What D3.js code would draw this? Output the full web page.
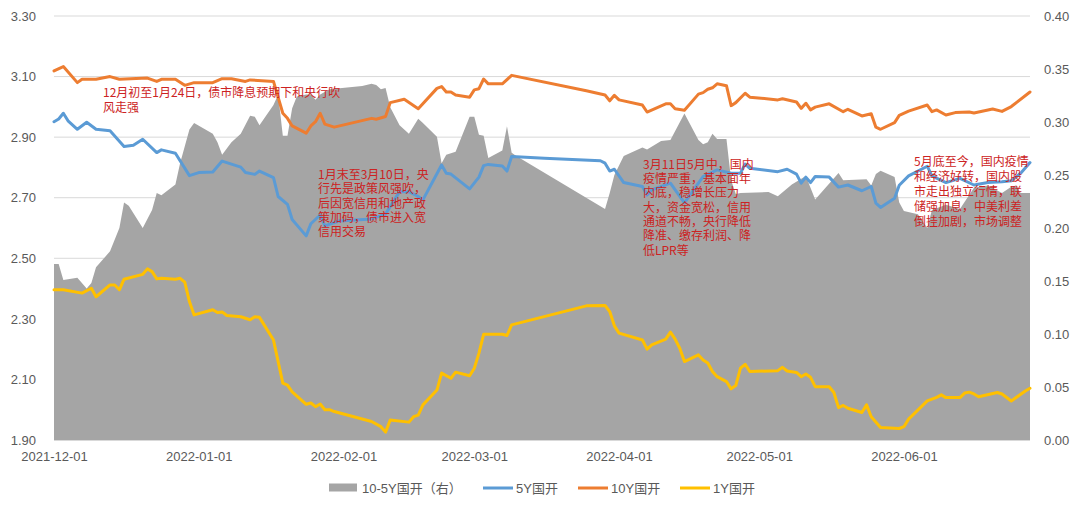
<!DOCTYPE html>
<html><head><meta charset="utf-8">
<script src="https://cdn.jsdelivr.net/npm/d3@7"></script>
<style>
html,body{margin:0;padding:0;background:#fff;}
svg{display:block;}
</style></head>
<body>
<svg id="chart" width="1080" height="507"></svg>
<script>
// ---------------- DATA ----------------
const leftTicks = [1.90, 2.10, 2.30, 2.50, 2.70, 2.90, 3.10, 3.30];
const rightTicks = [0.00, 0.05, 0.10, 0.15, 0.20, 0.25, 0.30, 0.35, 0.40];
const xTicks = ["2021-12-01","2022-01-01","2022-02-01","2022-03-01","2022-04-01","2022-05-01","2022-06-01"];
const seriesNames = ["10-5Y国开（右）", "5Y国开", "10Y国开", "1Y国开"];

const spread = [
["2021-12-01",0.166],["2021-12-02",0.166],["2021-12-03",0.151],["2021-12-06",0.153],["2021-12-08",0.143],
["2021-12-09",0.148],["2021-12-10",0.163],["2021-12-13",0.178],["2021-12-15",0.200],["2021-12-16",0.224],
["2021-12-17",0.221],["2021-12-20",0.200],["2021-12-22",0.217],["2021-12-23",0.233],["2021-12-24",0.231],
["2021-12-27",0.241],["2021-12-28",0.261],["2021-12-30",0.293],["2021-12-31",0.299],["2022-01-04",0.289],
["2022-01-05",0.281],["2022-01-06",0.269],["2022-01-08",0.281],["2022-01-10",0.289],["2022-01-12",0.306],
["2022-01-13",0.305],["2022-01-14",0.297],["2022-01-17",0.316],["2022-01-18",0.326],["2022-01-19",0.287],
["2022-01-20",0.287],["2022-01-21",0.313],["2022-01-22",0.324],["2022-01-24",0.326],["2022-01-25",0.326],
["2022-01-26",0.321],["2022-01-27",0.326],["2022-01-29",0.331],["2022-02-05",0.334],["2022-02-07",0.336],
["2022-02-08",0.335],["2022-02-09",0.331],["2022-02-10",0.332],["2022-02-11",0.314],["2022-02-13",0.297],
["2022-02-15",0.289],["2022-02-17",0.303],["2022-02-18",0.299],["2022-02-21",0.286],["2022-02-22",0.261],
["2022-02-23",0.269],["2022-02-25",0.272],["2022-02-28",0.305],["2022-03-01",0.305],["2022-03-02",0.288],
["2022-03-03",0.287],["2022-03-04",0.266],["2022-03-07",0.273],["2022-03-08",0.296],["2022-03-09",0.271],
["2022-03-10",0.268],["2022-03-29",0.218],["2022-03-30",0.233],["2022-03-31",0.250],["2022-04-02",0.268],
["2022-04-06",0.276],["2022-04-07",0.274],["2022-04-10",0.282],["2022-04-12",0.283],["2022-04-15",0.308],
["2022-04-18",0.283],["2022-04-19",0.279],["2022-04-20",0.281],["2022-04-21",0.289],["2022-04-22",0.284],
["2022-04-24",0.284],["2022-04-25",0.245],["2022-04-26",0.232],["2022-04-27",0.233],["2022-05-03",0.234],
["2022-05-05",0.230],["2022-05-08",0.241],["2022-05-11",0.249],["2022-05-13",0.227],["2022-05-18",0.252],
["2022-05-19",0.245],["2022-05-24",0.246],["2022-05-25",0.240],["2022-05-26",0.251],["2022-05-27",0.254],
["2022-05-30",0.248],["2022-05-31",0.224],["2022-06-01",0.216],["2022-06-04",0.213],["2022-06-06",0.200],
["2022-06-07",0.217],["2022-06-10",0.222],["2022-06-13",0.218],["2022-06-16",0.238],["2022-06-19",0.240],
["2022-06-22",0.233],["2022-06-24",0.239],["2022-06-25",0.240],["2022-06-26",0.233],["2022-06-28",0.233]
];

const y5 = [
["2021-12-01",2.951],["2021-12-02",2.960],["2021-12-03",2.979],["2021-12-04",2.954],["2021-12-06",2.926],
["2021-12-08",2.949],["2021-12-10",2.926],["2021-12-13",2.921],["2021-12-16",2.869],["2021-12-18",2.873],
["2021-12-20",2.893],["2021-12-23",2.849],["2021-12-24",2.858],["2021-12-27",2.847],["2021-12-30",2.773],
["2022-01-01",2.783],["2022-01-04",2.785],["2022-01-06",2.821],["2022-01-10",2.801],["2022-01-11",2.783],
["2022-01-13",2.777],["2022-01-14",2.788],["2022-01-17",2.766],["2022-01-18",2.704],["2022-01-20",2.678],
["2022-01-21",2.628],["2022-01-24",2.574],["2022-01-25",2.614],["2022-01-27",2.643],["2022-01-28",2.607],
["2022-01-31",2.623],["2022-02-07",2.630],["2022-02-10",2.646],["2022-02-13",2.720],["2022-02-15",2.720],
["2022-02-17",2.704],["2022-02-18",2.693],["2022-02-22",2.808],["2022-02-23",2.781],["2022-02-24",2.778],
["2022-02-28",2.729],["2022-03-02",2.768],["2022-03-03",2.806],["2022-03-04",2.810],["2022-03-07",2.805],
["2022-03-08",2.788],["2022-03-09",2.836],["2022-03-16",2.830],["2022-03-28",2.822],["2022-03-29",2.814],
["2022-03-30",2.788],["2022-03-31",2.794],["2022-04-02",2.750],["2022-04-06",2.737],["2022-04-07",2.709],
["2022-04-08",2.726],["2022-04-12",2.748],["2022-04-15",2.683],["2022-04-18",2.748],["2022-04-19",2.770],
["2022-04-22",2.792],["2022-04-25",2.781],["2022-04-27",2.781],["2022-04-28",2.811],["2022-04-29",2.797],
["2022-05-05",2.786],["2022-05-07",2.794],["2022-05-09",2.778],["2022-05-10",2.748],["2022-05-11",2.768],
["2022-05-12",2.750],["2022-05-13",2.770],["2022-05-16",2.768],["2022-05-18",2.735],["2022-05-20",2.742],
["2022-05-23",2.723],["2022-05-25",2.737],["2022-05-26",2.682],["2022-05-27",2.668],["2022-05-30",2.698],
["2022-05-31",2.741],["2022-06-02",2.772],["2022-06-06",2.804],["2022-06-07",2.772],["2022-06-10",2.750],
["2022-06-13",2.764],["2022-06-16",2.742],["2022-06-19",2.750],["2022-06-22",2.753],["2022-06-24",2.756],
["2022-06-26",2.781],["2022-06-28",2.816]
];

const y10 = [
["2021-12-01",3.119],["2021-12-03",3.133],["2021-12-06",3.080],["2021-12-07",3.091],["2021-12-10",3.091],
["2021-12-13",3.100],["2021-12-15",3.091],["2021-12-21",3.095],["2021-12-23",3.084],["2021-12-24",3.091],
["2021-12-27",3.091],["2021-12-29",3.071],["2021-12-31",3.080],["2022-01-04",3.080],["2022-01-06",3.093],
["2022-01-08",3.093],["2022-01-11",3.084],["2022-01-12",3.089],["2022-01-17",3.084],["2022-01-19",2.979],
["2022-01-20",2.962],["2022-01-21",2.937],["2022-01-24",2.913],["2022-01-25",2.937],["2022-01-26",2.951],
["2022-01-27",2.979],["2022-01-28",2.943],["2022-01-30",2.933],["2022-02-07",2.962],["2022-02-08",2.959],
["2022-02-10",2.968],["2022-02-11",3.014],["2022-02-14",3.025],["2022-02-17",2.994],["2022-02-21",3.061],
["2022-02-22",3.067],["2022-02-23",3.049],["2022-02-24",3.049],["2022-02-25",3.039],["2022-02-28",3.032],
["2022-03-01",3.056],["2022-03-02",3.060],["2022-03-03",3.092],["2022-03-04",3.076],["2022-03-07",3.076],
["2022-03-09",3.104],["2022-03-25",3.053],["2022-03-29",3.039],["2022-03-30",3.020],["2022-03-31",3.038],
["2022-04-01",3.023],["2022-04-06",3.006],["2022-04-07",2.983],["2022-04-11",3.010],["2022-04-12",3.010],
["2022-04-13",2.994],["2022-04-15",2.989],["2022-04-18",3.042],["2022-04-19",3.047],["2022-04-20",3.058],
["2022-04-21",3.063],["2022-04-22",3.076],["2022-04-24",3.070],["2022-04-25",3.004],["2022-04-26",3.014],
["2022-04-28",3.045],["2022-04-29",3.032],["2022-05-05",3.023],["2022-05-06",3.027],["2022-05-09",3.016],
["2022-05-10",2.995],["2022-05-11",3.012],["2022-05-12",2.990],["2022-05-13",2.999],["2022-05-16",3.010],
["2022-05-19",2.984],["2022-05-20",2.992],["2022-05-23",2.970],["2022-05-25",2.977],["2022-05-26",2.933],
["2022-05-27",2.926],["2022-05-30",2.948],["2022-05-31",2.972],["2022-06-02",2.986],["2022-06-06",3.006],
["2022-06-07",2.984],["2022-06-08",2.990],["2022-06-10",2.973],["2022-06-12",2.981],["2022-06-15",2.983],
["2022-06-16",2.980],["2022-06-17",2.983],["2022-06-20",2.993],["2022-06-22",2.985],["2022-06-24",3.001],
["2022-06-28",3.049]
];

const y1 = [
["2021-12-01",2.396],["2021-12-03",2.396],["2021-12-07",2.385],["2021-12-09",2.401],["2021-12-10",2.373],
["2021-12-13",2.412],["2021-12-14",2.412],["2021-12-15",2.396],["2021-12-16",2.431],["2021-12-20",2.447],
["2021-12-21",2.465],["2021-12-22",2.456],["2021-12-23",2.432],["2021-12-24",2.434],["2021-12-27",2.431],
["2021-12-28",2.434],["2021-12-29",2.421],["2021-12-30",2.357],["2021-12-31",2.313],["2022-01-04",2.330],
["2022-01-05",2.321],["2022-01-06",2.323],["2022-01-07",2.311],["2022-01-10",2.307],["2022-01-12",2.297],
["2022-01-13",2.307],["2022-01-14",2.305],["2022-01-17",2.230],["2022-01-19",2.088],["2022-01-20",2.081],
["2022-01-21",2.059],["2022-01-24",2.018],["2022-01-25",2.022],["2022-01-26",2.010],["2022-01-27",2.019],
["2022-01-28",2.000],["2022-01-29",2.000],["2022-01-30",1.994],["2022-02-07",1.961],["2022-02-09",1.944],
["2022-02-10",1.926],["2022-02-11",1.966],["2022-02-15",1.959],["2022-02-16",1.977],["2022-02-17",1.982],
["2022-02-18",2.016],["2022-02-21",2.065],["2022-02-22",2.121],["2022-02-24",2.104],["2022-02-25",2.124],
["2022-02-28",2.112],["2022-03-01",2.137],["2022-03-02",2.187],["2022-03-03",2.249],["2022-03-07",2.249],
["2022-03-08",2.245],["2022-03-09",2.280],["2022-03-25",2.343],["2022-03-29",2.344],["2022-03-30",2.324],
["2022-03-31",2.277],["2022-04-01",2.253],["2022-04-06",2.230],["2022-04-07",2.200],["2022-04-08",2.214],
["2022-04-11",2.233],["2022-04-12",2.256],["2022-04-13",2.233],["2022-04-14",2.203],["2022-04-15",2.159],
["2022-04-18",2.181],["2022-04-19",2.164],["2022-04-20",2.154],["2022-04-21",2.126],["2022-04-22",2.109],
["2022-04-24",2.093],["2022-04-25",2.069],["2022-04-26",2.080],["2022-04-27",2.137],["2022-04-28",2.150],
["2022-04-29",2.126],["2022-05-05",2.129],["2022-05-06",2.140],["2022-05-07",2.128],["2022-05-09",2.123],
["2022-05-10",2.109],["2022-05-11",2.118],["2022-05-12",2.107],["2022-05-13",2.076],["2022-05-16",2.076],
["2022-05-17",2.057],["2022-05-18",2.007],["2022-05-19",2.014],["2022-05-20",2.005],["2022-05-23",1.991],
["2022-05-24",2.016],["2022-05-25",1.977],["2022-05-27",1.941],["2022-05-31",1.938],["2022-06-01",1.944],
["2022-06-02",1.969],["2022-06-06",2.029],["2022-06-08",2.041],["2022-06-09",2.049],["2022-06-10",2.040],
["2022-06-13",2.040],["2022-06-14",2.055],["2022-06-15",2.058],["2022-06-16",2.052],["2022-06-17",2.043],
["2022-06-21",2.057],["2022-06-22",2.052],["2022-06-24",2.029],["2022-06-27",2.062],["2022-06-28",2.071]
];

const annotations = [
  {lines:["12月初至1月24日，债市降息预期下和央行吹","风走强"], x:103, y:91.5, lh:14.5},
  {lines:["1月末至3月10日，央","行先是政策风强吹，","后因宽信用和地产政","策加码，债市进入宽","信用交易"], x:318, y:173.3, lh:14.35},
  {lines:["3月11日5月中，国内","疫情严重，基本面年","内底，稳增长压力","大，资金宽松，信用","通道不畅，央行降低","降准、缴存利润、降","低LPR等"], x:643, y:163.3, lh:14.3},
  {lines:["5月底至今，国内疫情","和经济好转，国内股","市走出独立行情，联","储强加息，中美利差","倒挂加剧，市场调整"], x:914, y:160, lh:15}
];

// ---------------- CHART ----------------
const parse = d3.timeParse("%Y-%m-%d");
const svg = d3.select("#chart");
const X0 = 54, X1 = 1030, Y0 = 440, Y1 = 16;
const fontNum = "'Liberation Sans', Arial, 'Noto Sans CJK SC', sans-serif";
const textCol = "#595959";

const x = d3.scaleTime().domain([parse("2021-12-01"), parse("2022-06-28")]).range([X0, X1]);
const yL = d3.scaleLinear().domain([1.9, 3.3]).range([Y0, Y1]);
const yR = d3.scaleLinear().domain([0, 0.4]).range([Y0, Y1]);

// gridlines
svg.append("g").selectAll("line").data(leftTicks.slice(1)).join("line")
  .attr("x1", X0).attr("x2", X1)
  .attr("y1", d => yL(d)).attr("y2", d => yL(d))
  .attr("stroke", "#d9d9d9").attr("stroke-width", 1);

// area
const area = d3.area().x(d => x(parse(d[0]))).y0(Y0).y1(d => yR(d[1]));
svg.append("path").datum(spread).attr("d", area).attr("fill", "#a5a5a5");

// x axis line
svg.append("line").attr("x1", X0).attr("x2", X1).attr("y1", Y0 + 0.5).attr("y2", Y0 + 0.5)
  .attr("stroke", "#d9d9d9").attr("stroke-width", 1);

// lines
const lineL = d3.line().x(d => x(parse(d[0]))).y(d => yL(d[1]));
[[y5, "#5b9bd5"], [y10, "#ed7d31"], [y1, "#ffc000"]].forEach(([data, col]) => {
  svg.append("path").datum(data).attr("d", lineL)
    .attr("fill", "none").attr("stroke", col).attr("stroke-width", 3)
    .attr("stroke-linejoin", "round").attr("stroke-linecap", "round");
});

// axes
const axL = svg.append("g").attr("transform", `translate(${X0},0)`)
  .call(d3.axisLeft(yL).tickValues(leftTicks).tickFormat(d3.format(".2f")).tickSize(0).tickPadding(18));
const axR = svg.append("g").attr("transform", `translate(${X1},0)`)
  .call(d3.axisRight(yR).tickValues(rightTicks).tickFormat(d3.format(".2f")).tickSize(0).tickPadding(14));
const axB = svg.append("g").attr("transform", `translate(0,${Y0})`)
  .call(d3.axisBottom(x).tickValues(xTicks.map(parse)).tickFormat(d3.timeFormat("%Y-%m-%d")).tickSize(0).tickPadding(12));
[axL, axR, axB].forEach(g => {
  g.select(".domain").remove();
  g.selectAll("text").attr("fill", textCol).attr("font-size", 13).attr("font-family", fontNum);
});

// annotations
const ann = svg.append("g");
annotations.forEach(a => {
  a.lines.forEach((t, i) => {
    ann.append("text").attr("x", a.x).attr("y", a.y + i * a.lh)
      .attr("dominant-baseline", "central")
      .attr("font-family", "'Noto Sans CJK SC', sans-serif").attr("font-size", 12)
      .attr("fill", "#cc2222").text(t);
  });
});

// legend
const lg = svg.append("g").attr("font-family", fontNum).attr("font-size", 13).attr("fill", textCol);
const ly = 488;
lg.append("rect").attr("x", 329).attr("y", ly - 4.5).attr("width", 28).attr("height", 8).attr("fill", "#a5a5a5");
lg.append("text").attr("x", 362).attr("y", ly).attr("dominant-baseline", "central").text(seriesNames[0]);
const legItems = [[483, "#5b9bd5", seriesNames[1]], [578, "#ed7d31", seriesNames[2]], [680, "#ffc000", seriesNames[3]]];
legItems.forEach(([lx, col, name]) => {
  lg.append("line").attr("x1", lx).attr("x2", lx + 30).attr("y1", ly).attr("y2", ly)
    .attr("stroke", col).attr("stroke-width", 3);
  lg.append("text").attr("x", lx + 33).attr("y", ly).attr("dominant-baseline", "central").text(name);
});
</script>
</body></html>
